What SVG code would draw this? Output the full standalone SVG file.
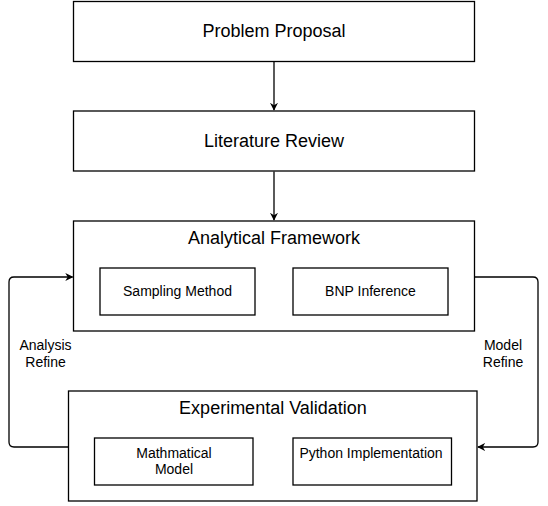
<svg xmlns="http://www.w3.org/2000/svg" width="548" height="506" viewBox="0 0 548 506">
<style>
.box{fill:#fff;stroke:#000;stroke-width:1.3}
.t18{font-family:"Liberation Sans",Arial,sans-serif;font-size:18px;text-anchor:middle;fill:#000}
.t14{font-family:"Liberation Sans",Arial,sans-serif;font-size:14px;text-anchor:middle;fill:#000}
.edge{fill:none;stroke:#000;stroke-width:1.3}
</style>
<defs>
<marker id="arr" viewBox="0 0 10 10" refX="9" refY="5" markerWidth="8" markerHeight="8" markerUnits="userSpaceOnUse" orient="auto">
<path d="M0,0 L10,5 L0,10 L3,5 z" fill="#000"/>
</marker>
</defs>
<rect width="548" height="506" fill="#fff"/>
<g id="connectors">
<path class="edge" d="M274,61.5 V110" marker-end="url(#arr)"/>
<path class="edge" d="M274,171.5 V220" marker-end="url(#arr)"/>
<path class="edge" d="M68,447 H14 Q9,447 9,442 V282 Q9,277 14,277 H72.5" marker-end="url(#arr)"/>
<path class="edge" d="M474.5,277 H533 Q538,277 538,282 V442 Q538,447 533,447 H478" marker-end="url(#arr)"/>
</g>
<g id="problem-proposal">
<rect class="box" x="73.5" y="1.5" width="401" height="60"/>
<text class="t18" x="274" y="37">Problem Proposal</text>
</g>
<g id="literature-review">
<rect class="box" x="73.5" y="111" width="401" height="60"/>
<text class="t18" x="274" y="147">Literature Review</text>
</g>
<g id="analytical-framework">
<rect class="box" x="73.5" y="221" width="401" height="110"/>
<text class="t18" x="274" y="244">Analytical Framework</text>
</g>
<g id="sampling-method">
<rect class="box" x="100" y="268" width="155" height="47"/>
<text class="t14" x="177.5" y="296">Sampling Method</text>
</g>
<g id="bnp-inference">
<rect class="box" x="293" y="268" width="155" height="47"/>
<text class="t14" x="370.5" y="296">BNP Inference</text>
</g>
<g id="experimental-validation">
<rect class="box" x="68.5" y="391" width="408.5" height="110"/>
<text class="t18" x="273" y="414">Experimental Validation</text>
</g>
<g id="mathmatical-model">
<rect class="box" x="94.5" y="438" width="158.5" height="47"/>
<text class="t14" x="174" y="458">Mathmatical</text>
<text class="t14" x="174" y="474">Model</text>
</g>
<g id="python-implementation">
<rect class="box" x="293" y="438" width="158.5" height="47"/>
<text class="t14" x="371" y="458">Python Implementation</text>
</g>
<g id="labels">
<text class="t14" x="45.5" y="350">Analysis</text>
<text class="t14" x="45.5" y="367">Refine</text>
<text class="t14" x="503" y="350">Model</text>
<text class="t14" x="503" y="367">Refine</text>
</g>
</svg>
